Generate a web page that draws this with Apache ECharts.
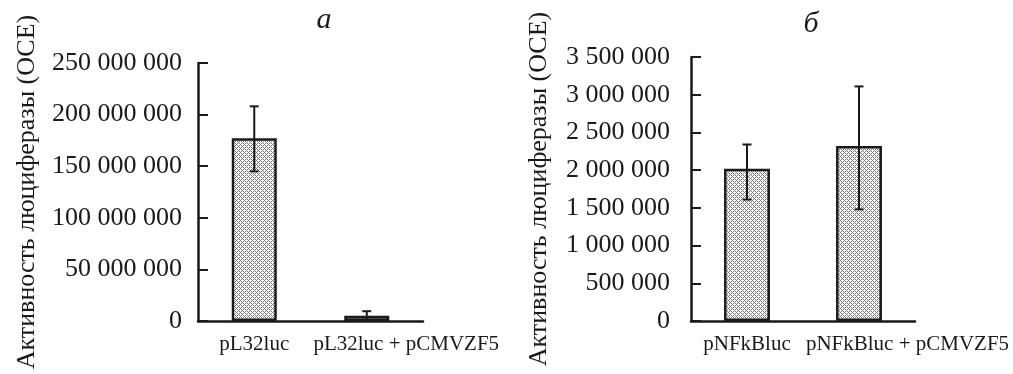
<!DOCTYPE html>
<html>
<head>
<meta charset="utf-8">
<script src="https://cdn.jsdelivr.net/npm/echarts@6/dist/echarts.min.js"></script>
<style>
  html, body { margin: 0; padding: 0; background: #fff; }
  #chart { width: 1013px; height: 374px; }
</style>
</head>
<body>
<div id="chart"></div>
<script>
// панель а
const categoriesA = ['pL32luc', 'pL32luc + pCMVZF5'];
const valuesA = [177000000, 5000000];
const errLowA = [145000000, 1000000];
const errHighA = [208000000, 9500000];
const yMaxA = 250000000;
const yStepA = 50000000;

// панель б
const categoriesB = ['pNFkBluc', 'pNFkBluc + pCMVZF5'];
const valuesB = [2020000, 2320000];
const errLowB = [1610000, 1480000];
const errHighB = [2340000, 3110000];
const yMaxB = 3500000;
const yStepB = 500000;

const titles = ['а', 'б'];
const yName = 'Активность люциферазы (ОСЕ)';

const FONT = '"Liberation Serif", "DejaVu Serif", serif';

// штриховка столбцов (сетка)
function makeHatch() {
  const c = document.createElement('canvas');
  c.width = 4;
  c.height = 4;
  const ctx = c.getContext('2d');
  ctx.fillStyle = '#ffffff';
  ctx.fillRect(0, 0, 4, 4);
  ctx.fillStyle = '#7a7a7a';
  for (let x = 0; x < 4; x++) {
    for (let y = 0; y < 4; y++) {
      if ((x + y) % 4 === 0 || (x - y + 4) % 4 === 0) ctx.fillRect(x, y, 1, 1);
    }
  }
  return c;
}
const hatch = { image: makeHatch(), repeat: 'repeat' };

const fmt = (v) => String(v).replace(/\B(?=(\d{3})+(?!\d))/g, ' ');

function errorBar(params, api) {
  const lo = api.coord([api.value(0), api.value(1)]);
  const hi = api.coord([api.value(0), api.value(2)]);
  const hw = 4.5;
  const style = { stroke: '#1a1a1a', lineWidth: 2 };
  return {
    type: 'group',
    children: [
      { type: 'line', shape: { x1: hi[0], y1: hi[1], x2: lo[0], y2: lo[1] }, style },
      { type: 'line', shape: { x1: hi[0] - hw, y1: hi[1], x2: hi[0] + hw, y2: hi[1] }, style },
      { type: 'line', shape: { x1: lo[0] - hw, y1: lo[1], x2: lo[0] + hw, y2: lo[1] }, style },
    ],
  };
}

function xAxisFor(gridIndex, cats, shift) {
  return {
    type: 'category',
    gridIndex,
    data: cats.map((c, i) => (i === 1 ? { value: c, textStyle: { padding: [0, 0, 0, shift] } } : c)),
    axisLine: { lineStyle: { color: '#1a1a1a', width: 2.5 } },
    axisTick: { inside: true, length: 10, lineStyle: { color: '#1a1a1a', width: 2 } },
    axisLabel: { interval: 0, margin: 13, color: '#1a1a1a', fontFamily: FONT, fontSize: 21 },
  };
}

function yAxisFor(gridIndex, max, step, gap, margin) {
  return {
    type: 'value',
    gridIndex,
    min: 0,
    max,
    interval: step,
    name: yName,
    nameLocation: 'middle',
    nameGap: gap,
    nameTextStyle: { color: '#1a1a1a', fontFamily: FONT, fontSize: 26 },
    splitLine: { show: false },
    axisLine: { show: true, lineStyle: { color: '#1a1a1a', width: 2.5 } },
    axisTick: { show: true, inside: true, length: 10, lineStyle: { color: '#1a1a1a', width: 2 } },
    axisLabel: { margin, color: '#1a1a1a', fontFamily: FONT, fontSize: 26, formatter: fmt },
  };
}

const barStyle = { color: hatch, borderColor: '#1a1a1a', borderWidth: 2.5 };

const chart = echarts.init(document.getElementById('chart'), null, { renderer: 'canvas' });

chart.setOption({
  backgroundColor: '#ffffff',
  animation: false,
  title: [
    { text: titles[0], left: 319, top: 0, textAlign: 'center',
      textStyle: { fontFamily: FONT, fontStyle: 'italic', fontWeight: 'normal', fontSize: 30, color: '#1a1a1a' } },
    { text: titles[1], left: 806, top: 4, textAlign: 'center',
      textStyle: { fontFamily: FONT, fontStyle: 'italic', fontWeight: 'normal', fontSize: 30, color: '#1a1a1a' } },
  ],
  grid: [
    { left: 198, right: 590, top: 63, bottom: 53 },
    { left: 691, right: 98, top: 57, bottom: 53 },
  ],
  xAxis: [xAxisFor(0, categoriesA, 79), xAxisFor(1, categoriesB, 97)],
  yAxis: [yAxisFor(0, yMaxA, yStepA, 158, 16), yAxisFor(1, yMaxB, yStepB, 139, 21)],
  series: [
    { type: 'bar', xAxisIndex: 0, yAxisIndex: 0, data: valuesA, barWidth: '40%', itemStyle: barStyle },
    { type: 'custom', xAxisIndex: 0, yAxisIndex: 0, z: 5, renderItem: errorBar,
      data: categoriesA.map((c, i) => [i, errLowA[i], errHighA[i]]) },
    { type: 'bar', xAxisIndex: 1, yAxisIndex: 1, data: valuesB, barWidth: '41%', itemStyle: barStyle },
    { type: 'custom', xAxisIndex: 1, yAxisIndex: 1, z: 5, renderItem: errorBar,
      data: categoriesB.map((c, i) => [i, errLowB[i], errHighB[i]]) },
  ],
});
</script>
</body>
</html>
